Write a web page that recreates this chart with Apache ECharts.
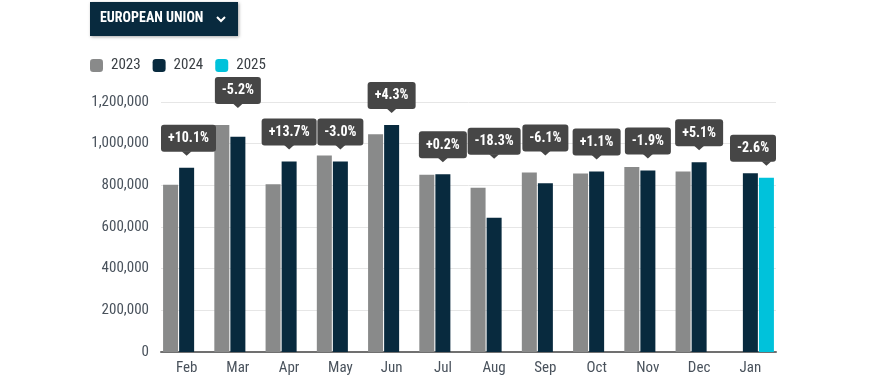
<!DOCTYPE html>
<html>
<head>
<meta charset="utf-8">
<style>html,body{margin:0;padding:0;background:#fff;}#chart{width:883px;height:384px;}</style>
<script src="https://cdn.jsdelivr.net/npm/echarts@6/dist/echarts.min.js"></script>
</head>
<body>
<div id="chart"></div>
<script>
const categories = ['Feb','Mar','Apr','May','Jun','Jul','Aug','Sep','Oct','Nov','Dec','Jan'];
const v2023 = [803000,1090000,805000,943000,1045000,851000,789000,862000,857000,888000,867000,null];
const v2024 = [884000,1033000,915000,915000,1090000,853000,645000,810000,866000,871000,911000,858000];
const v2025 = [null,null,null,null,null,null,null,null,null,null,null,836000];
const changeLabels = ['+10.1%','-5.2%','+13.7%','-3.0%','+4.3%','+0.2%','-18.3%','-6.1%','+1.1%','-1.9%','+5.1%','-2.6%'];
const seriesNames = ['2023','2024','2025'];
const yTicks = {min:0, max:1200000, interval:200000};

const FONT = '"Roboto Condensed","Liberation Sans Narrow","DejaVu Sans Condensed",sans-serif';
const C23 = '#898a8a', C24 = '#082a3e', C25 = '#00c2db';
const BAR_W = 15, GAP_PX = 1.05;
const LABEL_FONT = 'bold 14px ' + FONT;

const mctx = document.createElement('canvas').getContext('2d');
function textW(t){ mctx.font = LABEL_FONT; return mctx.measureText(t).width; }

const labelData = categories.map((c,i)=>{
  const isNew = v2025[i] != null;
  const cur = isNew ? v2025[i] : v2024[i];
  const prev = isNew ? v2024[i] : v2023[i];
  return [i, cur, prev, isNew ? 1 : 0];
});

const chart = echarts.init(document.getElementById('chart'), null, {renderer:'canvas'});
chart.setOption({
  animation:false,
  textStyle:{fontFamily:FONT},
  legend:{
    data:seriesNames, left:85, top:53, itemWidth:13, itemHeight:13, itemGap:12,
    icon:'roundRect',
    textStyle:{fontSize:15, color:'#3a3f44', fontFamily:FONT, padding:[0,0,0,3]}
  },
  grid:{left:161, right:107, top:102, bottom:32},
  xAxis:{
    type:'category', data:categories,
    axisLine:{lineStyle:{color:'#707070', width:2}},
    axisTick:{show:false},
    axisLabel:{fontSize:15, color:'#49525c', margin:9, fontFamily:FONT}
  },
  yAxis:{
    type:'value', min:yTicks.min, max:yTicks.max, interval:yTicks.interval,
    axisLine:{show:false}, axisTick:{show:false},
    splitLine:{lineStyle:{color:'#e6e6e6'}},
    axisLabel:{fontSize:15, color:'#49525c', margin:12, fontFamily:FONT,
      formatter:v=>v.toLocaleString('en-US')}
  },
  series:[
    {name:'2023', type:'bar', data:v2023, barWidth:BAR_W, barGap:'7%', itemStyle:{color:C23}},
    {name:'2024', type:'bar', data:v2024, barWidth:BAR_W, barGap:'7%', itemStyle:{color:C24}},
    {name:'2025', type:'bar', data:v2025, barWidth:BAR_W, barGap:'7%', itemStyle:{color:C25}},
    {
      type:'custom', z:10, clip:false, silent:true,
      data:labelData,
      encode:{x:0, y:1},
      renderItem:function(params, api){
        const i = api.value(0);
        const cur = api.value(1), prev = api.value(2), isNew = api.value(3);
        const p = api.coord([i, cur]);
        const cx = p[0] + (isNew ? (BAR_W + GAP_PX) : 0);
        let tip = p[1] - 12;
        if (!isNaN(prev) && prev != null) {
          const py = api.coord([i, prev])[1];
          if (py < tip + 3) tip = py - (py < tip - 10 ? 29 : 17);
        }
        const txt = changeLabels[i];
        const w = Math.round(textW(txt) + 14);
        const h = 27;
        const cs = params.coordSys;
        let bx = cx - w/2;
        if (bx + w > cs.x + cs.width) bx = cs.x + cs.width - w;
        if (bx < cs.x) bx = cs.x;
        const by = tip - 4 - h;
        return {
          type:'group',
          children:[
            {type:'rect', shape:{x:bx, y:by, width:w, height:h, r:3}, style:{fill:'#464646'}},
            {type:'polygon', shape:{points:[[cx-5, by+h-0.5],[cx+5, by+h-0.5],[cx, tip]]}, style:{fill:'#464646'}},
            {type:'text', style:{text:txt, x:bx + w/2, y:by + h/2 + 0.5, align:'center', verticalAlign:'middle',
              fill:'#ffffff', font:LABEL_FONT}}
          ]
        };
      }
    }
  ],
  graphic:[
    {type:'rect', left:90, top:2, shape:{width:148, height:34}, z:100,
      style:{fill:'#082a3e', shadowBlur:3, shadowColor:'rgba(0,0,0,0.35)', shadowOffsetX:1, shadowOffsetY:1}},
    {type:'text', left:100, top:11, z:101,
      style:{text:'EUROPEAN UNION', fill:'#ffffff', font:'bold 14px ' + FONT}},
    {type:'polyline', z:101, shape:{points:[[217,17],[221,21],[225,17]]},
      style:{stroke:'#ffffff', lineWidth:2, fill:null}}
  ]
});
</script>
</body>
</html>
